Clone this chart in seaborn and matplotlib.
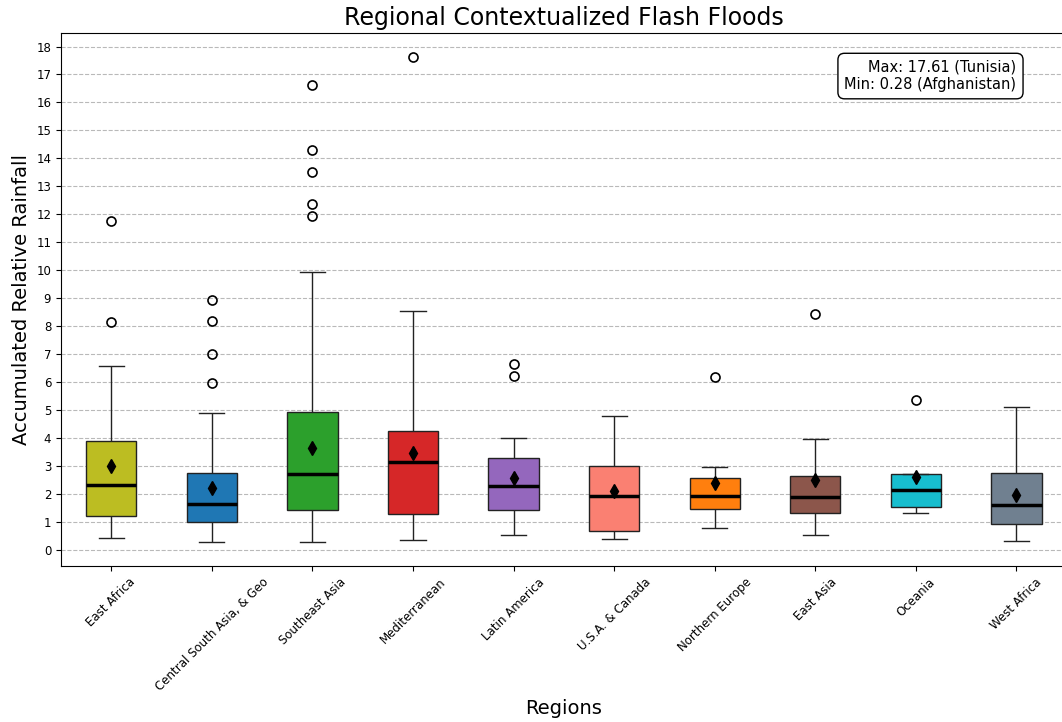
import numpy as np
import pandas as pd
import matplotlib
matplotlib.use("Agg")
import matplotlib.pyplot as plt
import seaborn as sns

regions = ["East Africa", "Central South Asia, & Geo", "Southeast Asia", "Mediterranean",
           "Latin America", "U.S.A. & Canada", "Northern Europe", "East Asia", "Oceania", "West Africa"]
colors = ["#bcbd22", "#1f77b4", "#2ca02c", "#d62728", "#9467bd",
          "#fa8072", "#ff7f0e", "#8c564b", "#17becf", "#708090"]

east_africa = [0.40, 0.55, 0.70, 0.85, 0.98, 1.10, 1.22, 1.35, 1.50, 1.70, 1.90, 2.10, 2.33,
               2.50, 2.75, 3.00, 3.30, 3.60, 3.88, 3.95, 4.10, 4.27, 6.56, 8.15, 11.76]
central_south_asia = [0.28, 0.35, 0.42, 0.50, 0.58, 0.65, 0.72, 0.80, 0.87, 0.93, 0.99,
                      1.05, 1.12, 1.18, 1.25, 1.32, 1.38, 1.45, 1.50, 1.56, 1.62,
                      1.65, 1.68, 1.72, 1.76, 1.80, 1.85, 1.90, 2.00, 2.10, 2.73,
                      2.80, 2.90, 3.00, 3.20, 3.59, 4.89, 5.98, 7.01, 8.19, 8.93]
southeast_asia = [0.29, 0.32, 0.36, 0.40, 0.44, 0.48, 0.52, 0.56, 0.60, 0.64, 0.70, 0.76, 0.82, 0.90, 1.10,
                  1.41, 1.45, 1.50, 1.55, 1.60, 1.65, 1.70, 1.75, 1.80, 1.85, 1.90, 2.00, 2.10, 2.25, 2.45,
                  2.69, 2.72, 2.76, 2.80, 2.85, 2.90, 2.95, 3.00, 3.05, 3.10, 3.15, 3.20, 3.30, 3.36, 3.46,
                  4.94, 5.10, 5.30, 5.50, 5.80, 6.10, 6.50, 7.00, 7.80, 8.80,
                  9.92, 11.95, 12.37, 13.51, 14.30, 16.62]
mediterranean = [0.34, 0.45, 0.60, 0.80, 0.95, 1.10, 1.26, 1.50, 1.90, 2.30, 2.65, 2.95, 3.14,
                 3.20, 3.35, 3.50, 3.70, 3.95, 4.24, 4.30, 4.45, 4.71, 5.00, 8.55, 17.61]
latin_america = [0.54, 0.65, 0.85, 1.10, 1.43, 1.55, 1.70, 1.95, 2.26, 2.40, 2.65, 2.90,
                 3.28, 3.76, 3.99, 6.21, 6.64]
usa_canada = [0.39, 0.45, 0.55, 0.68, 1.10, 1.50, 1.93, 2.30, 2.70, 3.01, 3.50, 4.27, 4.79]
northern_europe = [0.79, 1.40, 1.45, 1.85, 1.93, 2.38, 2.58, 2.95, 6.18]
east_asia = [0.52, 0.90, 1.15, 1.31, 1.55, 1.75, 1.87, 2.20, 2.50, 2.63, 3.47, 3.97, 8.42]
oceania = [1.31, 1.53, 2.13, 2.69, 5.34]
west_africa = [0.31, 0.60, 0.93, 1.20, 1.59, 2.00, 2.73, 3.26, 5.11]

values = [east_africa, central_south_asia, southeast_asia, mediterranean, latin_america,
          usa_canada, northern_europe, east_asia, oceania, west_africa]
max_country = "Tunisia"
min_country = "Afghanistan"

df = pd.DataFrame({
    "Region": np.repeat(regions, [len(v) for v in values]),
    "Value": np.concatenate(values),
})

fig, ax = plt.subplots(figsize=(10.62, 7.22), dpi=100)
fig.subplots_adjust(left=0.0574, right=1.0045, top=0.954, bottom=0.216)

sns.boxplot(
    data=df, x="Region", y="Value", hue="Region", order=regions, hue_order=regions,
    palette=dict(zip(regions, colors)), width=0.5, legend=False, saturation=1,
    linecolor="#222222", linewidth=1,
    showmeans=True,
    meanprops=dict(marker="d", markerfacecolor="black", markeredgecolor="black", markersize=7.5),
    medianprops=dict(color="black", linewidth=2.5),
    flierprops=dict(marker="o", markerfacecolor="none", markeredgecolor="black",
                    markersize=6.5, markeredgewidth=1.2),
    ax=ax,
)

ax.set_xlim(-0.5, 9.5)
ax.set_ylim(-0.587, 18.477)
ax.set_yticks(range(0, 19))
ax.yaxis.grid(True, linestyle="--", color="gray", alpha=0.55)
ax.set_axisbelow(True)
ax.tick_params(axis="x", rotation=45, labelsize=8.5)
ax.tick_params(axis="y", labelsize=8.5)
ax.set_title("Regional Contextualized Flash Floods", fontsize=17)
ax.set_xlabel("Regions", fontsize=14)
ax.set_ylabel("Accumulated Relative Rainfall", fontsize=14)

all_vals = np.concatenate(values)
ax.text(0.95, 0.95, f"Max: {all_vals.max():.2f} ({max_country})\nMin: {all_vals.min():.2f} ({min_country})",
        transform=ax.transAxes, ha="right", va="top", multialignment="right", fontsize=10.5,
        bbox=dict(boxstyle="round,pad=0.45", facecolor="white", edgecolor="black"))

fig.savefig("out.png", dpi=100)
